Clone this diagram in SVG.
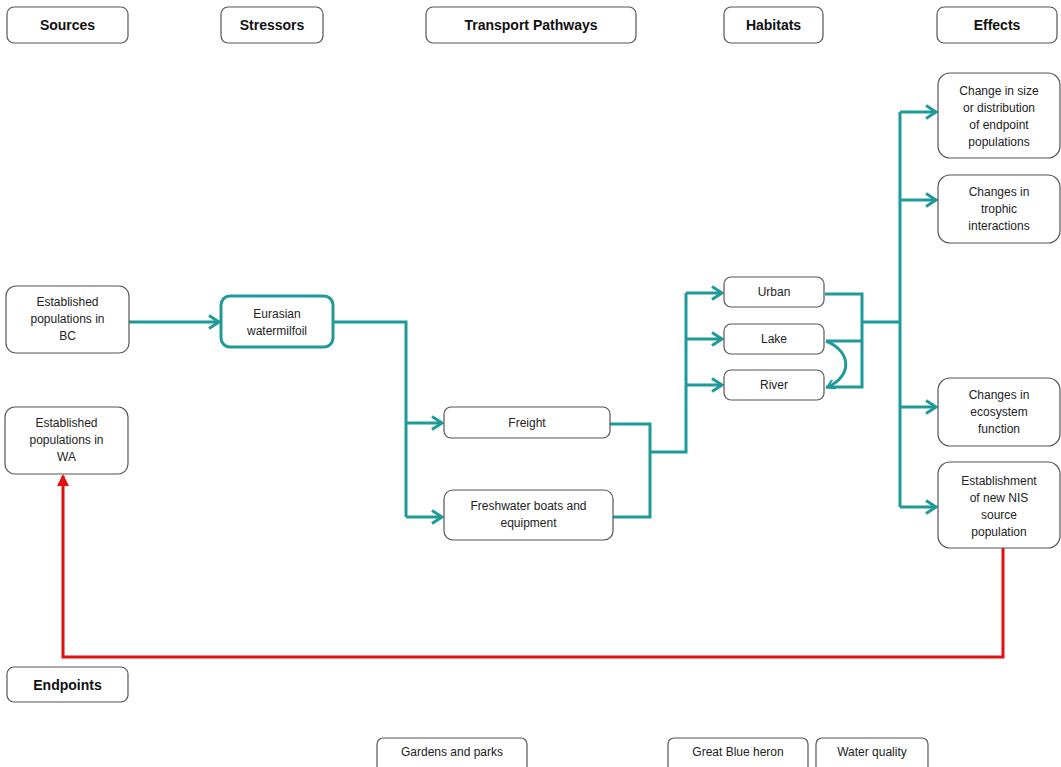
<svg xmlns="http://www.w3.org/2000/svg" width="1061" height="767" viewBox="0 0 1061 767">
<style>
.box{fill:#fff;stroke:#555;stroke-width:1.2}
.hbox{fill:#fff;stroke:#555;stroke-width:1.2}
.t{font-family:"Liberation Sans",Arial,sans-serif;font-size:12px;fill:#222;text-anchor:middle}
.h{font-family:"Liberation Sans",Arial,sans-serif;font-size:14px;font-weight:bold;fill:#111;text-anchor:middle}
.c{fill:none;stroke:#1f9a99;stroke-width:3}
.r{fill:none;stroke:#e31010;stroke-width:3}
</style>
<defs>
<marker id="ah" markerUnits="userSpaceOnUse" markerWidth="14" markerHeight="16" refX="11" refY="8" orient="auto">
<path d="M1,1.5 L11,8 L1,14.5" fill="none" stroke="#1f9a99" stroke-width="3"/>
</marker>
<marker id="ahr" markerUnits="userSpaceOnUse" markerWidth="14" markerHeight="14" refX="10" refY="6" orient="auto">
<path d="M0,0 L12,6 L0,12 Z" fill="#e31010"/>
</marker>
<marker id="ahs" markerUnits="userSpaceOnUse" markerWidth="10" markerHeight="10" refX="7" refY="5" orient="auto">
<path d="M0,0 L8,5 L0,10" fill="none" stroke="#1f9a99" stroke-width="2"/>
</marker>
</defs>
<rect width="1061" height="767" fill="#fff"/>
<g id="connectors">
<path class="c" d="M129,322 H219" marker-end="url(#ah)"/>
<path class="c" d="M333,322 H406 V517"/>
<path class="c" d="M406,423 H442" marker-end="url(#ah)"/>
<path class="c" d="M406,517 H442" marker-end="url(#ah)"/>
<path class="c" d="M610,424 H650 V517 H613"/>
<path class="c" d="M650,452 H686 V385"/>
<path class="c" d="M686,293 V385"/>
<path class="c" d="M686,293 H722" marker-end="url(#ah)"/>
<path class="c" d="M686,339 H722" marker-end="url(#ah)"/>
<path class="c" d="M686,385 H722" marker-end="url(#ah)"/>
<path class="c" d="M825,294 H862 V387 H826"/>
<path class="c" d="M862,341 H826"/>
<path class="c" d="M826,341 C852,352 852,376 828,387" marker-end="url(#ahs)"/>
<path class="c" d="M862,322 H900"/>
<path class="c" d="M900,112 V507"/>
<path class="c" d="M900,112 H936" marker-end="url(#ah)"/>
<path class="c" d="M900,200 H936" marker-end="url(#ah)"/>
<path class="c" d="M900,407 H936" marker-end="url(#ah)"/>
<path class="c" d="M900,507 H936" marker-end="url(#ah)"/>
<path class="r" d="M1003,548 V657 H63 V476" marker-end="url(#ahr)"/>
</g>
<g id="h-sources"><rect class="hbox" x="7" y="7" width="121" height="36" rx="7"/><text class="h" x="67.5" y="30">Sources</text></g>
<g id="h-stressors"><rect class="hbox" x="221" y="7" width="102" height="36" rx="7"/><text class="h" x="272" y="30">Stressors</text></g>
<g id="h-transport"><rect class="hbox" x="426" y="7" width="210" height="36" rx="7"/><text class="h" x="531" y="30">Transport Pathways</text></g>
<g id="h-habitats"><rect class="hbox" x="724" y="7" width="99" height="36" rx="7"/><text class="h" x="773.5" y="30">Habitats</text></g>
<g id="h-effects"><rect class="hbox" x="937" y="7" width="120" height="36" rx="7"/><text class="h" x="997" y="30">Effects</text></g>
<g id="h-endpoints"><rect class="hbox" x="7" y="667" width="121" height="35" rx="7"/><text class="h" x="67.5" y="690">Endpoints</text></g>
<g id="n-bc"><rect class="box" x="6" y="286" width="123" height="67" rx="10"/><text class="t" x="67.5" y="306">Established</text><text class="t" x="67.5" y="323">populations in</text><text class="t" x="67.5" y="340">BC</text></g>
<g id="n-wa"><rect class="box" x="5" y="407" width="123" height="67" rx="10"/><text class="t" x="66.5" y="427">Established</text><text class="t" x="66.5" y="444">populations in</text><text class="t" x="66.5" y="461">WA</text></g>
<g id="n-ew"><rect x="221" y="296" width="112" height="51" rx="9" fill="#fff" stroke="#1f9a99" stroke-width="3"/><text class="t" x="277" y="318">Eurasian</text><text class="t" x="277" y="335">watermilfoil</text></g>
<g id="n-freight"><rect class="box" x="444" y="407" width="166" height="31" rx="7"/><text class="t" x="527" y="427">Freight</text></g>
<g id="n-boats"><rect class="box" x="444" y="490" width="169" height="50" rx="9"/><text class="t" x="528.5" y="510">Freshwater boats and</text><text class="t" x="528.5" y="527">equipment</text></g>
<g id="n-urban"><rect class="box" x="724" y="277" width="100" height="30" rx="7"/><text class="t" x="774" y="296">Urban</text></g>
<g id="n-lake"><rect class="box" x="724" y="324" width="100" height="30" rx="7"/><text class="t" x="774" y="343">Lake</text></g>
<g id="n-river"><rect class="box" x="724" y="370" width="100" height="30" rx="7"/><text class="t" x="774" y="389">River</text></g>
<g id="n-size"><rect class="box" x="938" y="73" width="122" height="85" rx="12"/><text class="t" x="999" y="95">Change in size</text><text class="t" x="999" y="112">or distribution</text><text class="t" x="999" y="129">of endpoint</text><text class="t" x="999" y="146">populations</text></g>
<g id="n-trophic"><rect class="box" x="938" y="175" width="122" height="68" rx="12"/><text class="t" x="999" y="196">Changes in</text><text class="t" x="999" y="213">trophic</text><text class="t" x="999" y="230">interactions</text></g>
<g id="n-eco"><rect class="box" x="938" y="378" width="122" height="68" rx="12"/><text class="t" x="999" y="399">Changes in</text><text class="t" x="999" y="416">ecosystem</text><text class="t" x="999" y="433">function</text></g>
<g id="n-nis"><rect class="box" x="938" y="462" width="122" height="86" rx="12"/><text class="t" x="999" y="485">Establishment</text><text class="t" x="999" y="502">of new NIS</text><text class="t" x="999" y="519">source</text><text class="t" x="999" y="536">population</text></g>
<g id="n-gardens"><rect class="box" x="377" y="738" width="150" height="40" rx="6"/><text class="t" x="452" y="756">Gardens and parks</text></g>
<g id="n-heron"><rect class="box" x="668" y="738" width="140" height="40" rx="6"/><text class="t" x="738" y="756">Great Blue heron</text></g>
<g id="n-water"><rect class="box" x="816" y="738" width="112" height="40" rx="6"/><text class="t" x="872" y="756">Water quality</text></g>
</svg>
